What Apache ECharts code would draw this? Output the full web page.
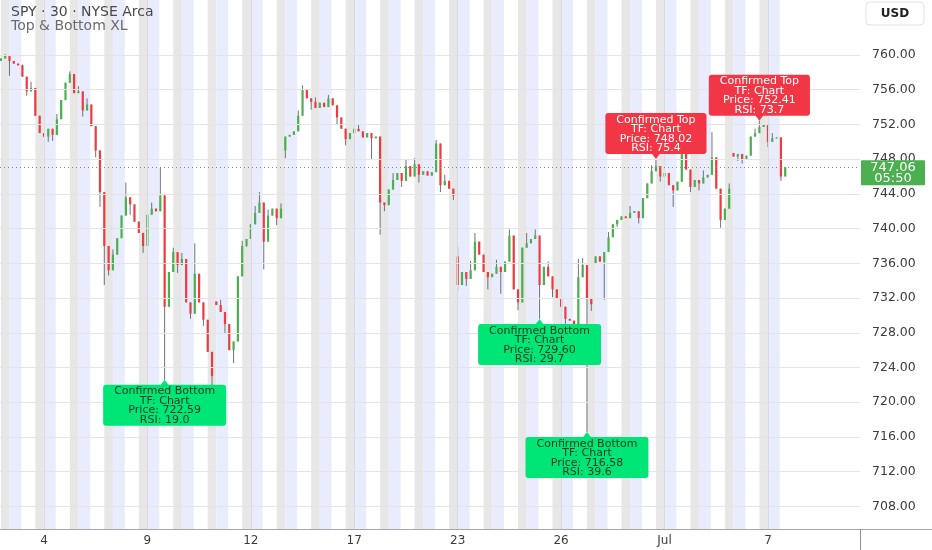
<!DOCTYPE html>
<html><head><meta charset="utf-8">
<script src="https://cdn.jsdelivr.net/npm/echarts@6/dist/echarts.min.js"></script>
<style>html,body{margin:0;padding:0;background:#fff}#c{width:932px;height:550px}</style>
</head><body><div id="c"></div>
<script>
// ---- data (30-min candles, one entry per 4 bars) ----
const closes = [
759.6,759.9,759.3,759.0,758.8,757.5,755.8,756.2,753.0,751.0,
750.6,751.5,750.8,752.6,754.8,756.8,757.8,755.6,755.8,753.6,
754.3,751.8,749.0,744.2,738.0,735.2,737.0,738.9,741.5,743.6,
742.8,740.8,739.5,738.0,741.6,742.3,742.0,743.8,731.0,735.0,
737.3,735.8,736.5,731.5,730.2,734.8,731.5,729.5,725.8,723.0,
731.2,730.4,729.0,726.0,727.0,734.5,738.0,738.8,740.5,741.8,
743.0,738.5,741.5,742.3,741.2,742.3,750.6,750.8,751.2,753.0,
756.0,755.0,754.6,753.9,754.5,754.0,755.0,754.2,752.8,751.5,
750.3,751.0,751.5,751.2,750.5,751.0,750.4,750.6,743.0,742.7,
744.5,745.6,746.4,745.5,747.2,746.0,747.4,746.2,746.6,746.1,
746.5,749.8,745.0,745.5,744.6,743.8,733.5,735.0,734.2,735.2,
738.5,737.0,735.0,734.4,734.8,735.6,735.0,736.2,739.2,733.0,
731.5,737.8,738.3,738.8,739.2,733.5,735.6,734.5,733.0,732.0,
731.0,729.6,729.4,729.0,734.4,735.8,732.0,731.3,736.8,736.2,
737.3,739.0,740.5,741.0,741.4,741.2,741.8,742.0,741.2,743.5,
745.2,746.6,747.2,746.0,746.4,745.0,744.4,745.4,748.6,746.8,
744.8,745.6,745.2,745.9,746.2,748.2,744.6,741.0,742.3,744.6,
748.3,748.6,748.0,748.4,750.6,751.0,751.7,752.0,750.0,750.4,
750.5,746.0,747.06
];
const gapOpens = {0:759.3, 50:731.6, 66:749.0, 106:736.8, 138:736.0, 170:748.7};
const wickHigh = {1:760.1,5:758.9,7:756.9,13:753.2,16:758.1,18:756.4,20:755.0,26:737.6,29:745.3,31:742.5,35:743.0,37:747.0,38:744.0,
  40:737.8,42:737.2,45:738.3,51:731.8,56:738.6,59:742.6,60:744.2,62:742.2,65:742.9,69:753.6,70:756.5,73:755.1,76:755.4,83:752.0,
  91:746.4,94:747.9,96:748.1,101:750.2,103:746.2,106:737.9,109:736.3,110:739.5,115:736.4,118:739.9,122:739.5,124:739.9,
  127:736.2,134:736.5,135:736.6,141:739.6,146:742.6,151:747.3,152:748.02,158:749.5,163:746.7,165:751.1,169:745.2,175:751.5,176:752.41,179:751.0};
const wickLow = {2:757.6,6:755.3,11:750.0,12:750.1,19:752.9,22:748.2,23:742.5,24:733.5,25:734.6,30:741.6,33:737.2,38:722.59,
  41:734.9,44:729.6,47:728.8,49:721.8,52:727.9,54:724.5,57:737.9,61:735.3,64:740.4,66:748.1,72:753.7,78:752.0,80:749.6,86:747.9,88:739.3,
  89:742.0,93:744.8,97:745.3,102:744.2,105:743.3,106:732.9,108:733.4,113:733.0,116:732.5,120:730.6,125:729.6,128:732.1,
  131:728.9,133:727.2,136:716.58,137:730.5,140:731.8,143:740.2,148:740.6,153:745.4,156:742.5,160:744.2,162:744.4,
  167:740.1,168:741.4,171:747.8,172:747.5,178:749.4,181:745.5};

const barStart = -40;   // bar index of first candle
const barStep = 4;      // bars per candle entry
const barsPerDay = 32;  // 4:00-20:00 in 30-min bars
const preBars = 11, regEnd = 24;
const firstDay = -2, lastDay = 21;

const xTickBars = [0,96,192,288,384,480,576,672];
const xTickLabels = ['4','9','12','17','23','26','Jul','7'];
const yTicks = [708,712,716,720,724,728,732,736,740,744,748,752,756,760];

const markerIdx = [38,125,136,152,176];
const markerPrice = [722.59,729.60,716.58,748.02,752.41];
const markerType = ['Bottom','Bottom','Bottom','Top','Top'];
const markerRSI = [19.0,29.7,39.6,75.4,73.7];

const lastPrice = 747.06;
const countdown = '05:50';

// ---- build ----
const UP = '#4caf50', DOWN = '#ef3b40', WICK = '#6f727b';
const GREEN_LBL = '#00e676', RED_LBL = '#f23645';
const FONT = 'DejaVu Sans';

const candles = closes.map((c, i) => {
  const o = (i in gapOpens) ? gapOpens[i] : closes[i - 1];
  const lo = (i in wickLow) ? wickLow[i] : Math.min(o, c);
  const hi = (i in wickHigh) ? wickHigh[i] : Math.max(o, c);
  return [barStart + barStep * i, o, c, lo, hi];
});
const lastBar = barStart + barStep * (closes.length - 1);

const bands = [];
for (let k = firstDay; k <= lastDay; k++) {
  const s = k * barsPerDay;
  if (s <= lastBar) bands.push([s, Math.min(s + preBars, lastBar + 2), 0]);
  if (s + regEnd <= lastBar) bands.push([s + regEnd, s + barsPerDay, 1]);
}

const markers = markerIdx.map((idx, k) => {
  const bottom = markerType[k] === 'Bottom';
  return {
    value: [barStart + barStep * idx, markerPrice[k]],
    symbol: 'triangle',
    symbolSize: [9, 6],
    symbolRotate: bottom ? 0 : 180,
    symbolOffset: [0, bottom ? 3 : -3],
    itemStyle: { color: bottom ? GREEN_LBL : RED_LBL, opacity: 1 },
    label: {
      show: true,
      position: bottom ? 'bottom' : 'top',
      distance: -1,
      formatter: 'Confirmed ' + markerType[k] + '\nTF: Chart\nPrice: ' + markerPrice[k].toFixed(2) + '\nRSI: ' + markerRSI[k].toFixed(1),
      backgroundColor: bottom ? GREEN_LBL : RED_LBL,
      color: bottom ? '#143a22' : '#ffffff',
      fontFamily: FONT, fontSize: 11, lineHeight: 9.5,
      padding: [2, 11, 1, 11], borderRadius: 3, align: 'center'
    }
  };
});

const chart = echarts.init(document.getElementById('c'));
const option = {
  animation: false,
  backgroundColor: '#ffffff',
  grid: { left: 0, right: 72, top: 0, bottom: 21 },
  xAxis: {
    type: 'value', min: -40.8, max: 757.4,
    axisLine: { show: true, lineStyle: { color: '#a6a6a6' } },
    axisTick: { show: false },
    splitLine: { show: false },
    axisLabel: {
      customValues: xTickBars,
      formatter: v => xTickLabels[xTickBars.indexOf(v)] || '',
      color: '#3c3c3c', fontFamily: FONT, fontSize: 12, margin: 6
    }
  },
  yAxis: {
    type: 'value', position: 'right', min: 705.40, max: 766.33,
    axisLine: { show: true, lineStyle: { color: '#8f8f8f' } },
    axisTick: { show: false },
    splitLine: { show: false },
    axisLabel: {
      customValues: yTicks,
      formatter: v => v.toFixed(2),
      color: '#3c3c3c', fontFamily: FONT, fontSize: 12.5, margin: 12
    }
  },
  series: [
    {
      type: 'custom', name: 'sessions', z: 1, clip: true, silent: true,
      data: bands,
      renderItem: (params, api) => {
        const a = api.coord([api.value(0), 766.33]);
        const b = api.coord([api.value(1), 705.40]);
        return { type: 'rect', shape: { x: a[0], y: a[1], width: b[0] - a[0], height: b[1] - a[1] },
          style: { fill: api.value(2) === 0 ? '#e9ecfc' : '#e7e7e7' } };
      }
    },
    {
      type: 'line', name: 'grid', z: 2, data: [], silent: true,
      markLine: {
        silent: true, symbol: 'none', animation: false,
        label: { show: false },
        lineStyle: { color: '#e4e4e4', width: 1, type: 'solid' },
        data: yTicks.map(v => ({ yAxis: v })).concat(xTickBars.map(v => ({ xAxis: v, lineStyle: { color: '#dadbe2' } })))
      }
    },
    {
      type: 'custom', name: 'SPY', z: 3, clip: true,
      data: candles,
      encode: { x: 0, y: [1, 2, 3, 4] },
      renderItem: (params, api) => {
        const x = api.value(0), o = api.value(1), c = api.value(2), l = api.value(3), h = api.value(4);
        const pO = api.coord([x, o]), pC = api.coord([x, c]), pL = api.coord([x, l]), pH = api.coord([x, h]);
        const w = 2.2;
        const top = Math.min(pO[1], pC[1]);
        const ht = Math.max(1, Math.abs(pO[1] - pC[1]));
        return { type: 'group', children: [
          { type: 'line', shape: { x1: pL[0], y1: pL[1], x2: pH[0], y2: pH[1] }, style: { stroke: WICK, lineWidth: 1 } },
          { type: 'rect', shape: { x: pO[0] - w / 2, y: top, width: w, height: ht }, style: { fill: c >= o ? UP : DOWN } }
        ] };
      },
      markLine: {
        silent: true, symbol: 'none', animation: false,
        label: { show: false },
        lineStyle: { color: '#8a8a8a', width: 1, type: [1, 3] },
        data: [{ yAxis: lastPrice }]
      }
    },
    {
      type: 'scatter', name: 'Top & Bottom XL', z: 10, clip: false,
      emphasis: { disabled: true },
      data: markers
    }
  ]
};
chart.setOption(option);

const yPx = chart.convertToPixel({ yAxisIndex: 0 }, lastPrice);
chart.setOption({
  graphic: [
    { type: 'text', left: 11, top: 5, z: 30, style: { text: 'SPY · 30 · NYSE Arca', fontFamily: FONT, fontSize: 14, fill: '#4a4a4a' } },
    { type: 'text', left: 11, top: 19, z: 30, style: { text: 'Top & Bottom XL', fontFamily: FONT, fontSize: 14, fill: '#6b6b6b' } },
    { type: 'line', z: 30, shape: { x1: 860, y1: 529.5, x2: 932, y2: 529.5 }, style: { stroke: '#a6a6a6', lineWidth: 1 } },
    { type: 'line', z: 30, shape: { x1: 860.5, y1: 529, x2: 860.5, y2: 550 }, style: { stroke: '#8f8f8f', lineWidth: 1 } },
    { type: 'rect', z: 30, shape: { x: 866, y: 2, width: 58, height: 23, r: 4 }, style: { fill: '#ffffff', stroke: '#e3e3e3', lineWidth: 1 } },
    { type: 'text', z: 31, x: 895, y: 13.5, style: { text: 'USD', fontFamily: FONT, fontSize: 12, fontWeight: 'bold', fill: '#222', align: 'center', verticalAlign: 'middle' } },
    { type: 'rect', z: 30, shape: { x: 861, y: yPx - 7, width: 64, height: 25, r: 1 }, style: { fill: '#4caf50' } },
    { type: 'text', z: 31, x: 893, y: yPx, style: { text: lastPrice.toFixed(2), fontFamily: FONT, fontSize: 13, fill: '#ffffff', align: 'center', verticalAlign: 'middle' } },
    { type: 'text', z: 31, x: 893, y: yPx + 11, style: { text: countdown, fontFamily: FONT, fontSize: 13, fill: '#ffffff', align: 'center', verticalAlign: 'middle' } }
  ]
});
</script>
</body></html>
